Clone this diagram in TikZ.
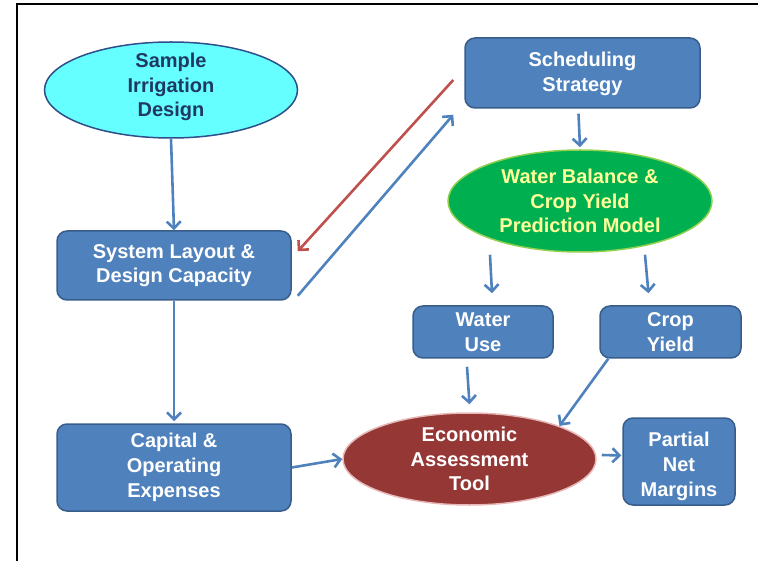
\documentclass[tikz,border=0pt]{standalone}
\usepackage{fontspec}
\setmainfont{Liberation Sans}
\usetikzlibrary{shapes.geometric,arrows.meta,calc}
\definecolor{boxfill}{HTML}{4F81BD}
\definecolor{boxline}{HTML}{385D8A}
\definecolor{cyanfill}{HTML}{66FFFF}
\definecolor{cyanline}{HTML}{2F4F8A}
\definecolor{navytext}{HTML}{1F3864}
\definecolor{greenfill}{HTML}{00B050}
\definecolor{greenline}{HTML}{92D050}
\definecolor{yellowtext}{HTML}{FFFF99}
\definecolor{ecofill}{HTML}{953735}
\definecolor{ecoline}{HTML}{E6B9B8}
\definecolor{arrowblue}{HTML}{4F81BD}
\definecolor{arrowred}{HTML}{C0504D}
\tikzset{
  lbl/.style={font=\bfseries\fontsize{20}{24.7}\selectfont, align=center},
  bluebox/.style={lbl, rectangle, rounded corners=10pt, draw=boxline, line width=1.5pt, fill=boxfill, text=white, inner sep=0pt},
  oval/.style={lbl, ellipse, line width=1.5pt, inner xsep=0pt, inner ysep=-8pt},
  conn/.style={draw=arrowblue, line width=2.6pt, -{Straight Barb[length=7pt,width=14pt]}},
  connred/.style={draw=arrowred, line width=2.6pt, -{Straight Barb[length=7pt,width=14pt]}}
}
\begin{document}
\begin{tikzpicture}[x=1pt,y=-1pt]
\useasboundingbox (0,0) rectangle (758,561);
\draw[line width=2pt] (17,561) -- (17,4) -- (758,4);

\node[oval, draw=cyanline, fill=cyanfill, minimum width=253pt, minimum height=96pt] (samp) at (171,90) {};
\node[lbl, text=navytext, inner sep=0pt] (samptxt) at ($(samp.center)+(0,-3)$) {Sample\\Irrigation\\Design};
\node[bluebox, minimum width=235pt, minimum height=70pt] (sched) at (582.5,73) {};
\node[lbl, text=white, inner sep=0pt] (schedtxt) at ($(sched.center)+(0,1)$) {Scheduling\\Strategy};
\node[oval, draw=greenline, fill=greenfill, text=yellowtext, minimum width=264pt, minimum height=102pt] (wb) at (580,201) {Water Balance \&\\Crop Yield\\Prediction Model};
\node[bluebox, minimum width=234pt, minimum height=69pt] (sys) at (174,265.5) {System Layout \&\\Design Capacity};
\node[bluebox, minimum width=140pt, minimum height=52pt] (wuse) at (483,332) {Water\\Use};
\node[bluebox, minimum width=141pt, minimum height=52pt] (crop) at (670.5,332) {Crop\\Yield};
\node[bluebox, minimum width=234pt, minimum height=87pt] (cap) at (174,467.5) {Capital \&\\Operating\\Expenses};
\node[oval, draw=ecoline, fill=ecofill, text=white, minimum width=253pt, minimum height=92pt] (eco) at (469.5,459) {Economic\\Assessment\\Tool};
\node[bluebox, minimum width=112pt, minimum height=87pt] (part) at (679,461.5) {};
\node[lbl, text=white, inner sep=0pt] (parttxt) at ($(part.center)+(0,5)$) {Partial\\Net\\Margins};

\draw[conn] (samp.south) -- (sys.north);
\draw[conn] (sys.south) -- ($(cap.north)+(0,-2)$);
\draw[conn] (cap.east) -- (eco.west);
\draw[conn] ($(wuse.south)+(-16,8)$) -- ($(eco.north)+(0,-8)$);
\draw[conn] ($(crop.south west)+(9,0)$) -- (eco.north east);
\draw[conn] ($(eco.east)+(5,-4)$) -- ($(part.west)+(-1,-6)$);
\draw[conn] ($(sched.south)+(-4,5)$) -- ($(wb.north)+(0,-2)$);
\draw[conn] ($(wb.south)+(-90,2)$) -- ($(wuse.north)+(9,-12)$);
\draw[conn] ($(wb.south)+(65,2)$) -- ($(crop.north)+(-22,-12)$);
\draw[conn] ($(sys.south east)+(6,-5)$) -- ($(sched.south west)+(-11,6)$);
\draw[connred] ($(sched.west)+(-11,7)$) -- ($(sys.north east)+(6,21)$);
\end{tikzpicture}
\end{document}
